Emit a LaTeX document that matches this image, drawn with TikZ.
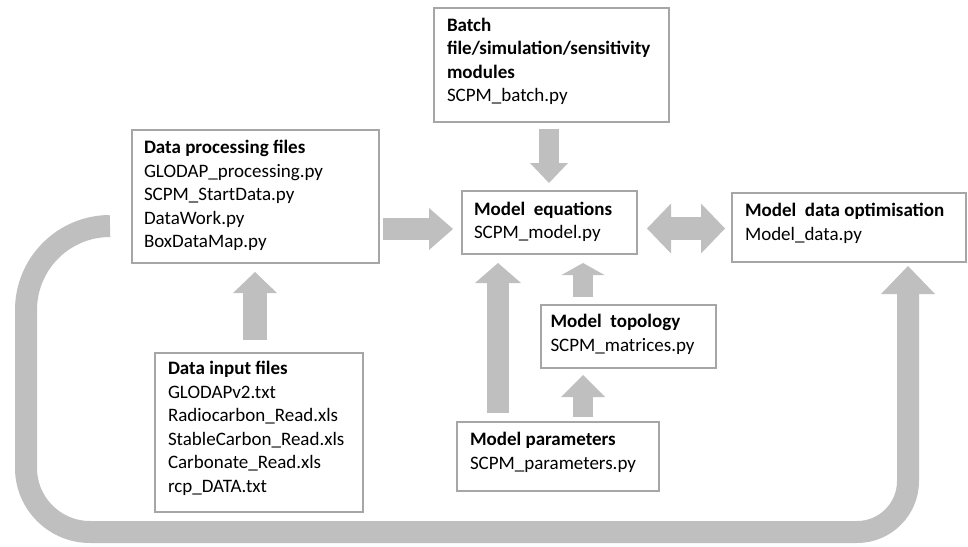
\documentclass[tikz,border=0pt]{standalone}
\usepackage{fontspec}
\setmainfont{Carlito}
\usetikzlibrary{arrows.meta,calc}
\definecolor{boxgray}{HTML}{A6A6A6}
\definecolor{arrgray}{HTML}{BFBFBF}
\begin{document}
\begin{tikzpicture}[x=1pt,y=-1pt,
  box/.style={draw=boxgray, line width=1.3pt, rectangle, inner sep=0pt, outer sep=0pt, anchor=north west},
  txt/.style={anchor=north west, inner sep=0pt, outer sep=0pt, align=left, font=\fontsize{19}{23.5}\selectfont},
  fat/.style={draw=arrgray, line width=#1},
  tip/.style 2 args={-{Triangle[length=#1,width=#2,line width=0pt]}}
]
\useasboundingbox (0,0) rectangle (968,546);

% boxes
\node[box, minimum width=235pt, minimum height=114pt] (batch) at (434,8) {};
\node[box, minimum width=247pt, minimum height=133pt] (proc) at (132,130) {};
\node[box, minimum width=208pt, minimum height=159pt] (input) at (155,353) {};
\node[box, minimum width=175pt, minimum height=63pt] (eq) at (462,191) {};
\node[box, minimum width=234pt, minimum height=69pt] (opt) at (732,193) {};
\node[box, minimum width=175pt, minimum height=63pt] (topo) at (541,305) {};
\node[box, minimum width=202pt, minimum height=69pt] (params) at (457,422) {};

% texts
\node[txt] (batchT) at ($(batch.north west)+(13,10)$) {\textbf{Batch}\\\textbf{file/simulation/sensitivity}\\\textbf{modules}\\SCPM\_batch.py};
\node[txt] (procT) at ($(proc.north west)+(12,10.5)$) {\textbf{Data processing files}\\GLODAP\_processing.py\\SCPM\_StartData.py\\DataWork.py\\BoxDataMap.py};
\node[txt] (inputT) at ($(input.north west)+(13,8.5)$) {\textbf{Data input files}\\GLODAPv2.txt\\Radiocarbon\_Read.xls\\StableCarbon\_Read.xls\\Carbonate\_Read.xls\\rcp\_DATA.txt};
\node[txt] (eqT) at ($(eq.north west)+(12,11)$) {\textbf{Model~ equations}\\SCPM\_model.py};
\node[txt] (optT) at ($(opt.north west)+(13,10.5)$) {\textbf{Model~ data optimisation}\\Model\_data.py};
\node[txt] (topoT) at ($(topo.north west)+(9.5,9.5)$) {\textbf{Model~ topology}\\SCPM\_matrices.py};
\node[txt] (paramsT) at ($(params.north west)+(13,10.5)$) {\textbf{Model parameters}\\SCPM\_parameters.py};

% arrows
\draw[fat=22pt, tip={24pt}{42pt}] ($(proc.east)+(4,32.5)$) -- ($(eq.west)+(-9,6.5)$);
\draw[fat=23pt, {Triangle[length=24pt,width=50pt,line width=0pt]}-{Triangle[length=24pt,width=50pt,line width=0pt]}] ($(eq.east)+(10,6)$) -- ($(opt.west)+(-7,1)$);
\draw[fat=20pt, tip={20pt}{38pt}] ($(eq.north |- batch.south)+(-0.5,7)$) -- ($(eq.north)+(-0.5,-8)$);
\draw[fat=24pt, tip={21pt}{44pt}] ($(proc.south |- input.north)+(-0.5,-13)$) -- ($(proc.south)+(-0.5,9)$);
\draw[fat=22pt, tip={20pt}{46pt}] ($(eq.south |- params.north)+(-51.5,-9)$) -- ($(eq.south)+(-51.5,9)$);
\draw[fat=20pt, tip={12pt}{43pt}] ($(topo.north)+(-45.5,-8)$) -- ($(topo.north |- eq.south)+(-45.5,9)$);
\draw[fat=20pt, tip={22pt}{44pt}] ($(topo.south |- params.north)+(-45.5,-5)$) -- ($(topo.south)+(-45.5,7)$);

% big loop arrow
\coordinate (loopEnd) at ($(opt.south east)+(-58,4)$);
\draw[fat=22pt, tip={28pt}{54pt}] ($(proc.west)+(-22,29.5)$)
  .. controls (63.6,226) and (26,263.6) .. (26,310)
  -- (26,468)
  .. controls (26,503.3) and (54.7,532) .. (90,532)
  -- (857,532)
  .. controls (885.2,532) and (908,509.2) .. (908,481)
  -- (loopEnd);
\end{tikzpicture}
\end{document}
